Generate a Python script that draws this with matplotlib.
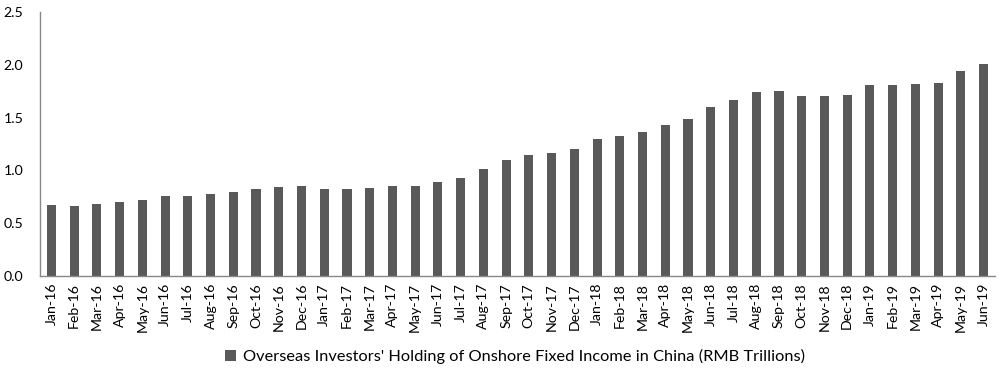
import matplotlib
matplotlib.use("Agg")
import matplotlib.pyplot as plt
import numpy as np

plt.rcParams['font.family'] = ['Lato', 'DejaVu Sans']

# Monthly labels, Jan-16 to Jun-19
months = ['Jan-16', 'Feb-16', 'Mar-16', 'Apr-16', 'May-16', 'Jun-16', 'Jul-16', 'Aug-16',
          'Sep-16', 'Oct-16', 'Nov-16', 'Dec-16', 'Jan-17', 'Feb-17', 'Mar-17', 'Apr-17',
          'May-17', 'Jun-17', 'Jul-17', 'Aug-17', 'Sep-17', 'Oct-17', 'Nov-17', 'Dec-17',
          'Jan-18', 'Feb-18', 'Mar-18', 'Apr-18', 'May-18', 'Jun-18', 'Jul-18', 'Aug-18',
          'Sep-18', 'Oct-18', 'Nov-18', 'Dec-18', 'Jan-19', 'Feb-19', 'Mar-19', 'Apr-19',
          'May-19', 'Jun-19']

# Holdings (RMB trillions)
holding = [0.67, 0.66, 0.68, 0.70, 0.72, 0.76, 0.76, 0.78,
           0.80, 0.82, 0.84, 0.85, 0.82, 0.82, 0.83, 0.85,
           0.85, 0.89, 0.93, 1.01, 1.10, 1.15, 1.16, 1.20,
           1.30, 1.33, 1.36, 1.43, 1.49, 1.60, 1.67, 1.74,
           1.75, 1.70, 1.70, 1.71, 1.81, 1.81, 1.82, 1.83,
           1.94, 2.01]

legend_label = "Overseas Investors' Holding of Onshore Fixed Income in China (RMB Trillions)"

fig = plt.figure(figsize=(10, 3.73), dpi=100)
ax = fig.add_axes([0.04, 0.26, 0.955, 0.708])

x = np.arange(len(months))
ax.bar(x, holding, width=0.4, color='#595959', label=legend_label)

ax.set_xlim(-0.5, len(months) - 0.5)
ax.set_ylim(0, 2.5)
ax.set_yticks([0, 0.5, 1.0, 1.5, 2.0, 2.5])
ax.set_yticklabels(['0.0', '0.5', '1.0', '1.5', '2.0', '2.5'])
ax.set_xticks(x)
ax.set_xticklabels(months, rotation=90)

ax.tick_params(axis='both', length=0, labelsize=10.2, colors='#000000')
ax.tick_params(axis='y', pad=12)
ax.tick_params(axis='x', pad=5)

for side in ['top', 'right']:
    ax.spines[side].set_visible(False)
for side in ['left', 'bottom']:
    ax.spines[side].set_color('#888888')
    ax.spines[side].set_linewidth(1.0)

ax.legend(loc='center', bbox_to_anchor=(0.515, 0.043), bbox_transform=fig.transFigure,
          frameon=False, fontsize=11.8, handlelength=0.7, handleheight=0.7, handletextpad=0.4)

fig.savefig('out.png', dpi=100)
